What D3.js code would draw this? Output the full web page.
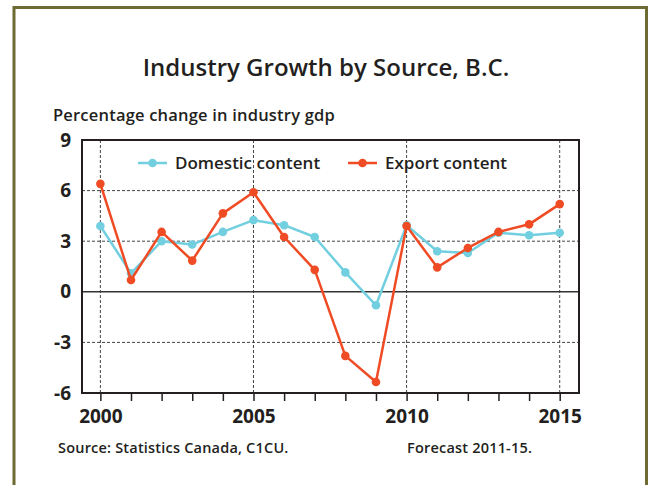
<!DOCTYPE html>
<html>
<head>
<meta charset="utf-8">
<script src="https://cdn.jsdelivr.net/npm/d3@7"></script>
<style>
  body { margin: 0; background: #fff; }
  svg text { font-family: "Open Sans", "DejaVu Sans", sans-serif; fill: #231f20; }
</style>
</head>
<body>
<svg id="chart" width="650" height="485"></svg>
<script>
// chart data
var years = [2000, 2001, 2002, 2003, 2004, 2005, 2006, 2007, 2008, 2009, 2010, 2011, 2012, 2013, 2014, 2015];
var domestic = [3.9, 1.1, 3.0, 2.8, 3.55, 4.25, 3.95, 3.25, 1.15, -0.8, 3.95, 2.4, 2.3, 3.5, 3.35, 3.5];
var exportc = [6.4, 0.7, 3.55, 1.85, 4.65, 5.9, 3.25, 1.3, -3.8, -5.35, 3.9, 1.45, 2.6, 3.55, 4.0, 5.2];
var yTicks = [9, 6, 3, 0, -3, -6];
var xLabels = [2000, 2005, 2010, 2015];

var blue = '#72cfe0';
var red = '#ef4b24';

var svg = d3.select('#chart');

// olive frame round the page (no bottom edge visible)
svg.append('path')
    .attr('d', 'M14,490 L14,7.5 L646.5,7.5 L646.5,490')
    .attr('fill', 'none')
    .attr('stroke', '#6d6b32')
    .attr('stroke-width', 3);

svg.append('text')
    .attr('x', 326).attr('y', 76)
    .attr('text-anchor', 'middle')
    .style('font-size', '24px').style('font-weight', 600)
    .text('Industry Growth by Source, B.C.');

svg.append('text')
    .attr('x', 53).attr('y', 121)
    .style('font-size', '16.5px').style('font-weight', 600)
    .style('letter-spacing', '0.2px')
    .text('Percentage change in industry gdp');

var plotL = 82, plotR = 579, plotT = 140, plotB = 393;

var x = d3.scaleLinear().domain([1999.4, 2015.63]).range([plotL, plotR]);
var y = d3.scaleLinear().domain([-6, 9]).range([plotB, plotT]);

// grid
svg.append('g').selectAll('line').data([6, 3, -3]).join('line')
    .attr('x1', plotL).attr('x2', plotR)
    .attr('y1', d => y(d)).attr('y2', d => y(d))
    .attr('stroke', '#444').attr('stroke-width', 1).attr('stroke-dasharray', '3,2');

svg.append('g').selectAll('line').data(xLabels).join('line')
    .attr('x1', d => x(d)).attr('x2', d => x(d))
    .attr('y1', plotT).attr('y2', plotB)
    .attr('stroke', '#444').attr('stroke-width', 1).attr('stroke-dasharray', '3,2');

// zero line
svg.append('line')
    .attr('x1', plotL).attr('x2', plotR)
    .attr('y1', y(0)).attr('y2', y(0))
    .attr('stroke', '#333').attr('stroke-width', 1.6);

// frame of the plot
svg.append('rect')
    .attr('x', plotL).attr('y', plotT)
    .attr('width', plotR - plotL).attr('height', plotB - plotT)
    .attr('fill', 'none').attr('stroke', '#231f20').attr('stroke-width', 2);

// x axis ticks and labels
var xAxis = d3.axisBottom(x)
    .tickValues(years)
    .tickSize(8)
    .tickFormat(d => xLabels.indexOf(d) >= 0 ? d : '');
var gx = svg.append('g').attr('transform', 'translate(0,' + plotB + ')').call(xAxis);
gx.select('.domain').remove();
gx.selectAll('.tick line').attr('stroke', '#231f20').attr('stroke-width', 1.5);
gx.selectAll('.tick text')
    .attr('y', 17)
    .style('font-size', '19px').style('font-weight', 700)
    .style('font-family', '"Open Sans", "DejaVu Sans", sans-serif')
    .attr('fill', '#231f20');

// y axis labels (plain hyphen like the original)
var yAxis = d3.axisLeft(y).tickValues(yTicks).tickSize(0).tickPadding(11)
    .tickFormat(d => String(d));
var gy = svg.append('g').attr('transform', 'translate(' + plotL + ',0)').call(yAxis);
gy.select('.domain').remove();
gy.selectAll('.tick text')
    .style('font-size', '19px').style('font-weight', 700)
    .style('font-family', '"Open Sans", "DejaVu Sans", sans-serif')
    .attr('fill', '#231f20');

// series
var line = d3.line().x((d, i) => x(years[i])).y(d => y(d));

function drawSeries(values, color) {
    svg.append('path')
        .datum(values)
        .attr('d', line)
        .attr('fill', 'none')
        .attr('stroke', color)
        .attr('stroke-width', 2.5)
        .attr('stroke-linejoin', 'round');
    svg.append('g').selectAll('circle').data(values).join('circle')
        .attr('cx', (d, i) => x(years[i]))
        .attr('cy', d => y(d))
        .attr('r', 4.3)
        .attr('fill', color);
}

drawSeries(domestic, blue);
drawSeries(exportc, red);

// legend
var legend = [
    { name: 'Domestic content', color: blue, x: 138 },
    { name: 'Export content', color: red, x: 348 }
];
var lg = svg.append('g').selectAll('g').data(legend).join('g')
    .attr('transform', d => 'translate(' + d.x + ',163)');
lg.append('line').attr('x1', 0).attr('x2', 29)
    .attr('stroke', d => d.color).attr('stroke-width', 2.5);
lg.append('circle').attr('cx', 14.5).attr('r', 4.3).attr('fill', d => d.color);
lg.append('text').attr('x', 37).attr('y', 6)
    .style('font-size', '17px').style('font-weight', 600)
    .text(d => d.name);

// notes
svg.append('text')
    .attr('x', 58).attr('y', 453)
    .style('font-size', '14.5px').style('font-weight', 600)
    .style('letter-spacing', '0.2px')
    .text('Source: Statistics Canada, C1CU.');
svg.append('text')
    .attr('x', 407).attr('y', 453)
    .style('font-size', '14.5px').style('font-weight', 600)
    .style('letter-spacing', '0.2px')
    .text('Forecast 2011-15.');
</script>
</body>
</html>
